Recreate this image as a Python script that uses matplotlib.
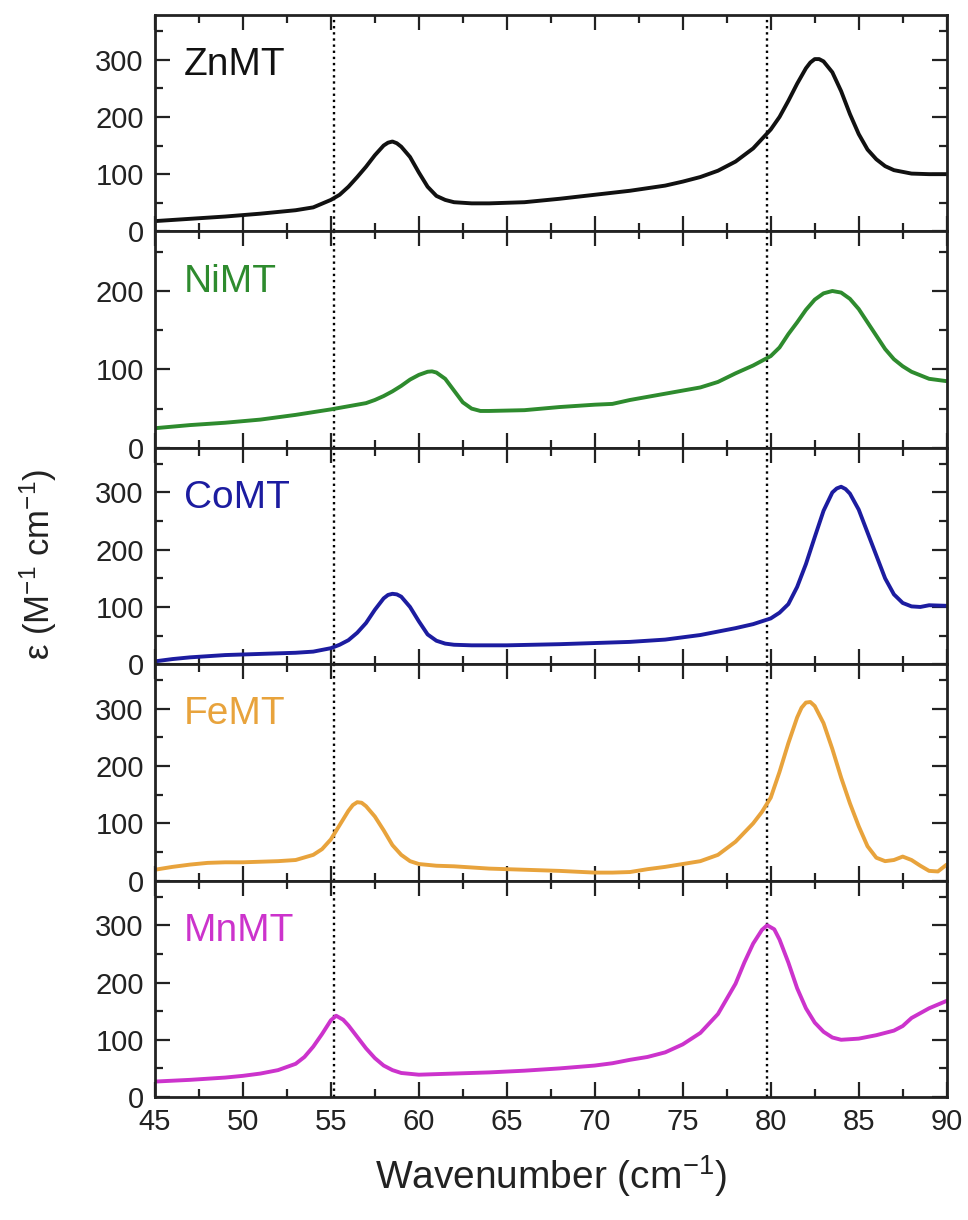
import numpy as np
import matplotlib
matplotlib.use('Agg')
import matplotlib.pyplot as plt
from matplotlib.ticker import MultipleLocator

plt.rcParams['font.family'] = ['Liberation Sans', 'DejaVu Sans']
plt.rcParams['mathtext.fontset'] = 'custom'
plt.rcParams['mathtext.rm'] = 'Liberation Sans'
plt.rcParams['mathtext.it'] = 'Liberation Sans:italic'

# absorption spectra of the metal-substituted MTs (wavenumber in cm-1, epsilon in M-1 cm-1)
zn_x = [45, 47, 49, 51, 53, 54, 55, 55.5, 56, 56.5, 57, 57.5, 58, 58.25, 58.5, 58.75, 59, 59.5, 60, 60.5,
        61, 61.5, 62, 63, 64, 66, 68, 70, 72, 74, 75, 76, 77, 78, 79, 80, 80.5, 81, 81.5, 82,
        82.25, 82.5, 82.75, 83, 83.5, 84, 84.5, 85, 85.5, 86, 86.5, 87, 88, 89, 90]
zn_y = [18, 22, 26, 31, 37, 42, 55, 64, 78, 95, 113, 133, 150, 155, 157, 154, 148, 130, 103, 78,
        62, 55, 51, 49, 49, 51, 57, 64, 71, 80, 87, 95, 106, 122, 145, 178, 200, 228, 258, 285,
        295, 301, 301, 297, 278, 245, 205, 170, 143, 126, 114, 107, 101, 100, 100]

ni_x = [45, 47, 49, 51, 53, 55, 56, 57, 57.5, 58, 58.5, 59, 59.5, 60, 60.5, 60.75, 61, 61.5, 62, 62.5,
        63, 63.5, 64, 66, 68, 70, 71, 72, 74, 76, 77, 78, 79, 80, 80.5, 81, 81.5, 82, 82.5, 83,
        83.5, 84, 84.5, 85, 85.5, 86, 86.5, 87, 87.5, 88, 89, 90]
ni_y = [25, 29, 32, 36, 42, 49, 53, 57, 61, 66, 72, 79, 87, 93, 97, 97.5, 96, 88, 73, 58,
        50, 47, 47, 48, 52, 55, 56, 61, 69, 77, 84, 95, 105, 117, 128, 145, 160, 176, 189, 197,
        200, 198, 190, 177, 160, 143, 126, 113, 104, 97, 88, 85]

co_x = [45, 46, 47, 48, 49, 50, 51, 52, 53, 54, 55, 55.5, 56, 56.5, 57, 57.5, 58, 58.25, 58.5, 58.75,
        59, 59.5, 60, 60.5, 61, 61.5, 62, 63, 65, 68, 70, 72, 74, 76, 78, 79, 80, 80.5, 81, 81.5,
        82, 82.5, 83, 83.5, 83.75, 84, 84.25, 84.5, 85, 85.5, 86, 86.5, 87, 87.5, 88, 88.5, 89, 90]
co_y = [5, 9, 12, 14, 16, 17, 18, 19, 20, 22, 28, 34, 42, 55, 72, 95, 115, 121, 123, 122,
        118, 100, 75, 52, 41, 36, 34, 33, 33, 35, 37, 39, 43, 51, 63, 70, 80, 90, 105, 135,
        175, 222, 268, 300, 307, 310, 306, 298, 270, 230, 190, 150, 122, 107, 101, 100, 103, 102]

fe_x = [45, 46, 47, 48, 49, 50, 51, 52, 53, 54, 54.5, 55, 55.5, 56, 56.25, 56.5, 56.75, 57, 57.5, 58,
        58.5, 59, 59.5, 60, 61, 62, 63, 64, 66, 68, 70, 71, 72, 73, 74, 75, 76, 77, 78, 79,
        79.5, 80, 80.5, 81, 81.5, 81.75, 82, 82.25, 82.5, 83, 83.5, 84, 84.5, 85, 85.5, 86, 86.5, 87,
        87.5, 88, 88.5, 89, 89.5, 90]
fe_y = [19, 24, 28, 31, 32, 32, 33, 34, 36, 45, 55, 72, 97, 122, 132, 137, 136, 130, 112, 88,
        62, 45, 34, 29, 26, 25, 23, 21, 19, 17, 14, 14, 15, 20, 24, 29, 34, 45, 68, 100,
        120, 145, 190, 240, 285, 302, 311, 312, 305, 275, 230, 180, 135, 95, 60, 40, 34, 36,
        42, 36, 26, 17, 16, 28]

mn_x = [45, 47, 49, 50, 51, 52, 53, 53.5, 54, 54.5, 55, 55.3, 55.7, 56, 56.5, 57, 57.5, 58, 58.5, 59,
        60, 62, 64, 66, 68, 70, 71, 72, 73, 74, 75, 76, 77, 78, 78.5, 79, 79.5, 79.8, 80.2, 80.5,
        81, 81.5, 82, 82.5, 83, 83.5, 84, 85, 86, 87, 87.5, 88, 89, 90]
mn_y = [27, 30, 34, 37, 41, 47, 58, 70, 88, 110, 134, 142, 135, 125, 105, 85, 68, 55, 47, 42,
        39, 41, 43, 46, 50, 55, 59, 65, 70, 78, 92, 112, 145, 198, 235, 268, 292, 300, 293, 275,
        235, 190, 155, 130, 114, 104, 100, 102, 108, 116, 124, 138, 155, 168]

names = ['ZnMT', 'NiMT', 'CoMT', 'FeMT', 'MnMT']
colors = ['#111111', '#2e8b2e', '#1c1ca0', '#e8a33c', '#cc33cc']
spectra = [(zn_x, zn_y), (ni_x, ni_y), (co_x, co_y), (fe_x, fe_y), (mn_x, mn_y)]
y_tops = [378, 276, 378, 378, 378]
marker_lines = [55.2, 79.8]

fig, axes = plt.subplots(5, 1, figsize=(9.68, 12.2), dpi=100, sharex=True)
fig.subplots_adjust(left=0.160, right=0.978, top=0.9877, bottom=0.1008, hspace=0)

for ax, name, color, (x, y), ytop in zip(axes, names, colors, spectra, y_tops):
    ax.plot(x, y, color=color, lw=2.8, solid_joinstyle='round', solid_capstyle='round')
    for xv in marker_lines:
        ax.axvline(xv, color='black', ls=(0, (1, 1.6)), lw=1.7, zorder=0)
    ax.set_xlim(45, 90)
    ax.set_ylim(0, ytop)
    ax.xaxis.set_major_locator(MultipleLocator(5))
    ax.xaxis.set_minor_locator(MultipleLocator(2.5))
    ax.yaxis.set_major_locator(MultipleLocator(100))
    ax.yaxis.set_minor_locator(MultipleLocator(50))
    ax.tick_params(which='both', direction='in', top=True, right=True, width=1.6,
                   labelsize=21, pad=8, colors='#222222')
    ax.tick_params(which='major', length=10.5)
    ax.tick_params(which='minor', length=5.5)
    for sp in ax.spines.values():
        sp.set_linewidth(2.0)
        sp.set_color('#222222')
    ax.text(0.037, 0.722, name, transform=ax.transAxes, fontsize=28, color=color,
            va='baseline', ha='left')

axes[-1].set_xlabel('Wavenumber (cm$^{\\mathrm{-1}}$)', fontsize=28, labelpad=12, color='#222222')
fig.text(0.040, 0.537, 'ε (M$^{\\mathrm{-1}}$ cm$^{\\mathrm{-1}}$)', rotation=90, fontsize=25,
         ha='center', va='center', color='#222222')

fig.savefig('out.png', dpi=100)
